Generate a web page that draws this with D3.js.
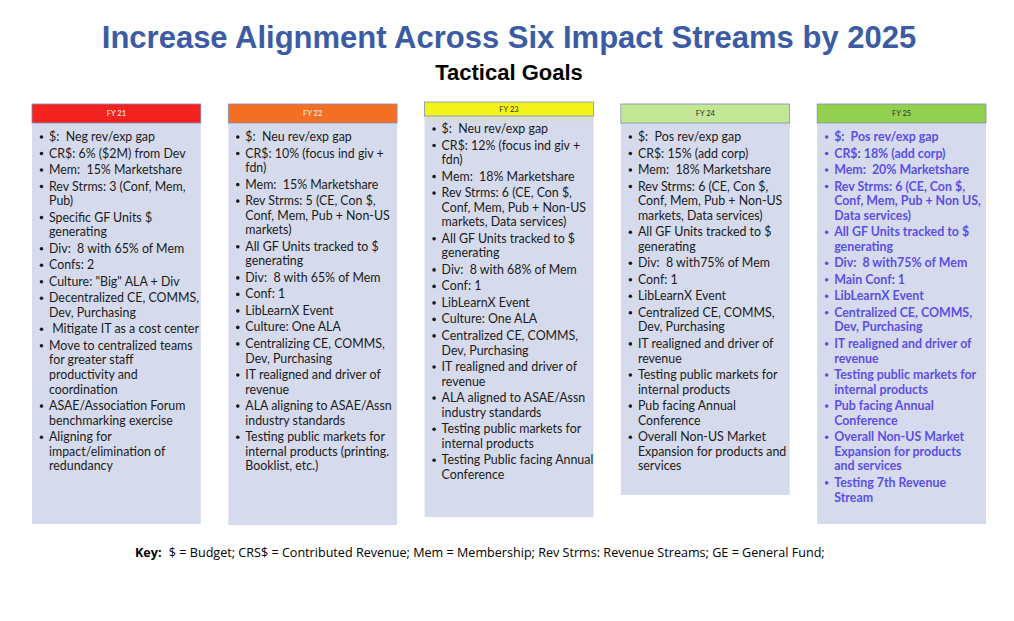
<!DOCTYPE html>
<html><head><meta charset="utf-8">
<script src="https://cdn.jsdelivr.net/npm/d3@7"></script>
<style>body{margin:0;background:#fff}</style>
</head><body>
<svg id="chart" width="1014" height="621"></svg>
<script>
'use strict';

const years = ['FY 21', 'FY 22', 'FY 23', 'FY 24', 'FY 25'];
const headerColors = ['#f5231f', '#f26f24', '#f3f31a', '#c4e796', '#92d050'];

const goals21 = ['$:  Neg rev/exp gap', 'CR$: 6% ($2M) from Dev', 'Mem:  15% Marketshare',
  'Rev Strms: 3 (Conf, Mem,\nPub)', 'Specific GF Units $\ngenerating', 'Div:  8 with 65% of Mem', 'Confs: 2',
  'Culture: "Big" ALA + Div', 'Decentralized CE, COMMS,\nDev, Purchasing', ' Mitigate IT as a cost center',
  'Move to centralized teams\nfor greater staff\nproductivity and\ncoordination',
  'ASAE/Association Forum\nbenchmarking exercise', 'Aligning for\nimpact/elimination of\nredundancy'];
const goals22 = ['$:  Neu rev/exp gap', 'CR$: 10% (focus ind giv +\nfdn)', 'Mem:  15% Marketshare',
  'Rev Strms: 5 (CE, Con $,\nConf, Mem, Pub + Non-US\nmarkets)', 'All GF Units tracked to $\ngenerating',
  'Div:  8 with 65% of Mem', 'Conf: 1', 'LibLearnX Event', 'Culture: One ALA',
  'Centralizing CE, COMMS,\nDev, Purchasing', 'IT realigned and driver of\nrevenue',
  'ALA aligning to ASAE/Assn\nindustry standards', 'Testing public markets for\ninternal products (printing.\nBooklist, etc.)'];
const goals23 = ['$:  Neu rev/exp gap', 'CR$: 12% (focus ind giv +\nfdn)', 'Mem:  18% Marketshare',
  'Rev Strms: 6 (CE, Con $,\nConf, Mem, Pub + Non-US\nmarkets, Data services)', 'All GF Units tracked to $\ngenerating',
  'Div:  8 with 68% of Mem', 'Conf: 1', 'LibLearnX Event', 'Culture: One ALA',
  'Centralized CE, COMMS,\nDev, Purchasing', 'IT realigned and driver of\nrevenue',
  'ALA aligned to ASAE/Assn\nindustry standards', 'Testing public markets for\ninternal products',
  'Testing Public facing Annual\nConference'];
const goals24 = ['$:  Pos rev/exp gap', 'CR$: 15% (add corp)', 'Mem:  18% Marketshare',
  'Rev Strms: 6 (CE, Con $,\nConf, Mem, Pub + Non-US\nmarkets, Data services)', 'All GF Units tracked to $\ngenerating',
  'Div:  8 with75% of Mem', 'Conf: 1', 'LibLearnX Event', 'Centralized CE, COMMS,\nDev, Purchasing',
  'IT realigned and driver of\nrevenue', 'Testing public markets for\ninternal products',
  'Pub facing Annual\nConference', 'Overall Non-US Market\nExpansion for products and\nservices'];
const goals25 = ['$:  Pos rev/exp gap', 'CR$: 18% (add corp)', 'Mem:  20% Marketshare',
  'Rev Strms: 6 (CE, Con $,\nConf, Mem, Pub + Non US,\nData services)', 'All GF Units tracked to $\ngenerating',
  'Div:  8 with75% of Mem', 'Main Conf: 1', 'LibLearnX Event', 'Centralized CE, COMMS,\nDev, Purchasing',
  'IT realigned and driver of\nrevenue', 'Testing public markets for\ninternal products',
  'Pub facing Annual\nConference', 'Overall Non-US Market\nExpansion for products\nand services',
  'Testing 7th Revenue\nStream'];
const allGoals = [goals21, goals22, goals23, goals24, goals25];
const boxBottoms = [524, 525, 517, 495, 524];

const svg = d3.select('#chart');
const font = 'Lato, "Open Sans", sans-serif';
const arial = '"Liberation Sans", Arial, sans-serif';

svg.append('text').attr('x', 509).attr('y', 48).attr('text-anchor', 'middle')
  .attr('font-family', arial).attr('font-weight', 700).attr('font-size', 31)
  .attr('fill', '#3b5ba5').text('Increase Alignment Across Six Impact Streams by 2025');
svg.append('text').attr('x', 509).attr('y', 80).attr('text-anchor', 'middle')
  .attr('font-family', arial).attr('font-weight', 700).attr('font-size', 22)
  .attr('fill', '#000').text('Tactical Goals');

const x = d3.scaleBand().domain(years).range([32, 986]).paddingInner(0.14);

const col = svg.selectAll('g.col').data(years).enter().append('g').attr('class', 'col')
  .attr('transform', d => `translate(${x(d)},0)`);

col.each(function (yr, i) {
  const g = d3.select(this);
  const w = x.bandwidth();
  const yellow = i === 2;
  const top = yellow ? 102 : 104;
  const hh = yellow ? 14 : 19;
  g.append('rect').attr('x', 0).attr('y', top + hh).attr('width', w)
    .attr('height', boxBottoms[i] - top - hh).attr('fill', '#d6daed');
  if (yellow) {
    g.append('rect').attr('x', 0).attr('y', top + hh).attr('width', w).attr('height', 6).attr('fill', '#d8dbd6');
  }
  g.append('rect').attr('x', 0).attr('y', top).attr('width', w).attr('height', hh)
    .attr('fill', headerColors[i]).attr('stroke', '#7f8fb8').attr('stroke-width', 0.8);
  g.append('text').attr('x', w / 2).attr('y', top + hh / 2 + 2.5).attr('text-anchor', 'middle')
    .attr('font-family', font).attr('font-size', 7.5).attr('fill', i < 2 ? '#fff' : '#333').text(yr);

  const last = i === 4;
  const color = last ? '#5b4fe8' : '#1a1a1a';
  let y = (yellow ? 133 : 141);
  allGoals[i].forEach(item => {
    const lines = item.split('\n');
    g.append('circle').attr('cx', 9.5).attr('cy', y - 4).attr('r', 1.8).attr('fill', color);
    lines.forEach(l => {
      g.append('text').attr('x', 17).attr('y', y).attr('font-family', font)
        .attr('font-size', 12.4).attr('font-weight', last ? 700 : 400)
        .attr('fill', color).style('white-space', 'pre').text(l);
      y += 14.6;
    });
    y += 1.9;
  });
});

const key = svg.append('text').attr('x', 135).attr('y', 557).attr('font-family', '"Open Sans", sans-serif')
  .attr('font-size', 12.6).attr('fill', '#000');
key.append('tspan').attr('font-weight', 700).text('Key:');
key.append('tspan').attr('dx', 4).text(' $ = Budget; CRS$ = Contributed Revenue; Mem = Membership; Rev Strms: Revenue Streams; GE = General Fund;');
</script>
</body></html>
